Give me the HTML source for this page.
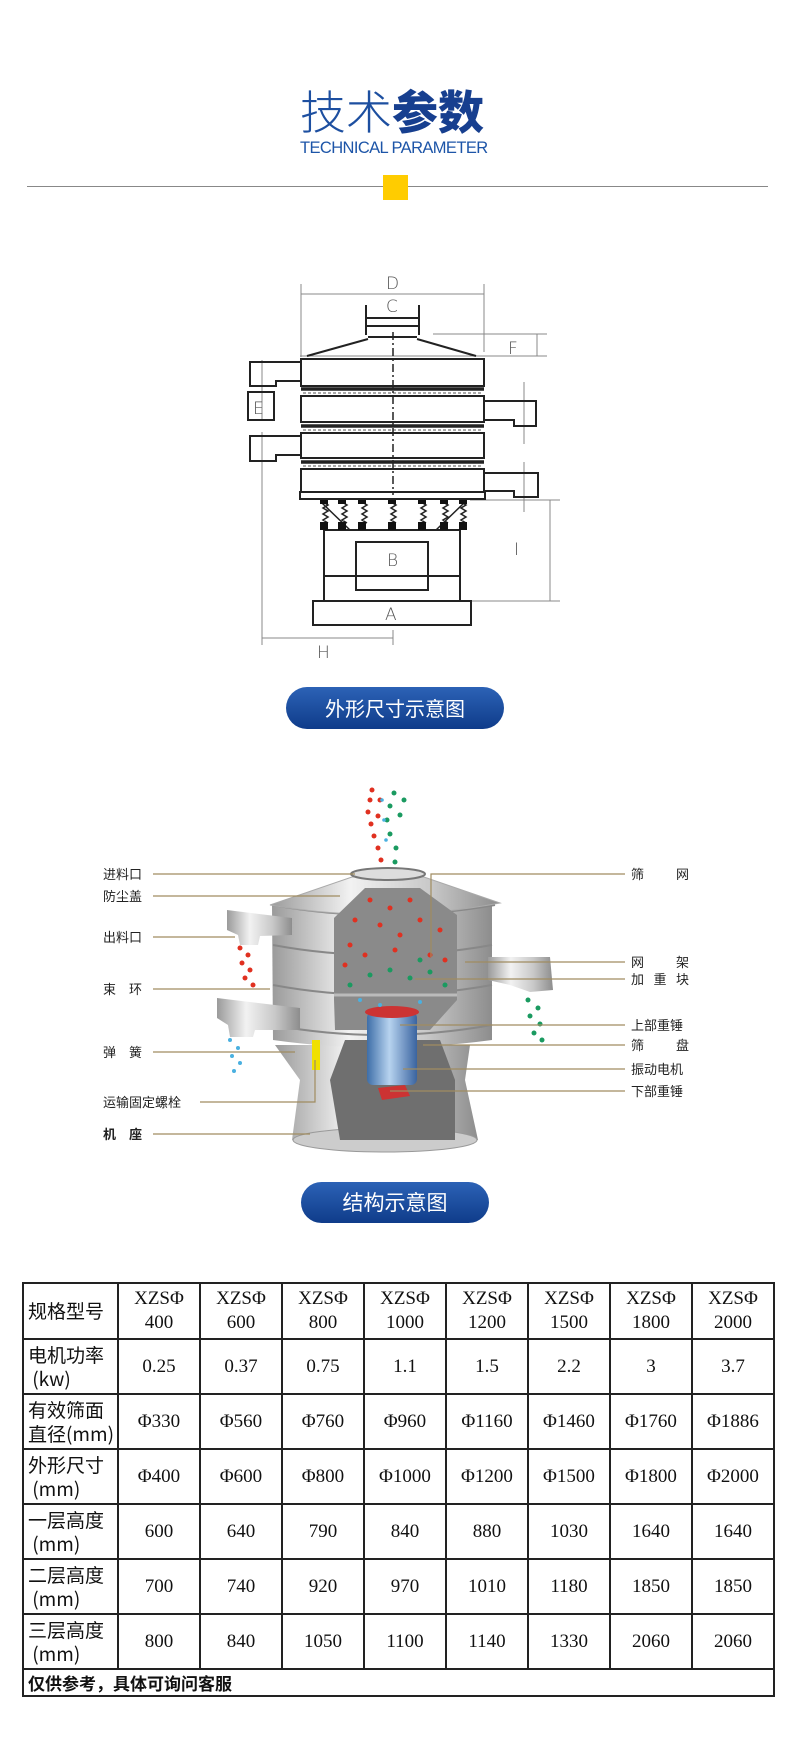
<!DOCTYPE html>
<html><head><meta charset="utf-8">
<style>
html,body{margin:0;padding:0;background:#fff;}
body{width:790px;height:1754px;position:relative;overflow:hidden;font-family:"Liberation Sans","Noto Sans CJK SC",sans-serif;}
.abs{position:absolute;}
.btn{position:absolute;border-radius:22px;background:linear-gradient(#2c62b6,#0f3c8a);color:#fff;text-align:center;font-family:"Noto Sans CJK SC",sans-serif;}
table{position:absolute;left:22px;top:1282px;border-collapse:collapse;font-family:"Liberation Serif","Noto Serif CJK SC",serif;}
td{border:2px solid #222;text-align:center;font-size:19px;color:#111;padding:0;line-height:24px;}
td.h{font-family:"Noto Sans CJK SC",sans-serif;font-size:19px;text-align:left;padding-left:4px;line-height:24px;}
</style></head><body>
<div class="abs" style="left:300px;top:80px;width:192px;font-size:46px;line-height:60px;color:#1d4fa0;font-family:'Noto Sans CJK SC',sans-serif;white-space:nowrap;"><span style="font-weight:300">技术</span><span style="font-weight:900;color:#173f8f">参数</span></div>
<div class="abs" style="left:300px;top:139px;width:192px;font-size:16.5px;color:#1d55a8;letter-spacing:-0.6px;white-space:nowrap;">TECHNICAL PARAMETER</div>
<div class="abs" style="left:27px;top:186px;width:741px;height:1px;background:#888;"></div>
<div class="abs" style="left:383px;top:175px;width:25px;height:25px;background:#ffcc00;"></div>

<svg class="abs" style="left:0;top:0" width="790" height="760" viewBox="0 0 790 760">
<g fill="none" stroke="#888" stroke-width="1">
<line x1="301" y1="294" x2="484" y2="294"/><line x1="301" y1="284" x2="301" y2="357"/><line x1="484" y1="284" x2="484" y2="352"/>
<line x1="433" y1="334" x2="547" y2="334"/><line x1="300" y1="356" x2="547" y2="356"/><line x1="537" y1="334" x2="537" y2="356"/>
<line x1="262" y1="360" x2="262" y2="420"/><line x1="262" y1="432" x2="262" y2="645"/>
<line x1="262" y1="638" x2="393" y2="638"/><line x1="393" y1="630" x2="393" y2="645"/>
<line x1="470" y1="500" x2="560" y2="500"/><line x1="470" y1="601" x2="560" y2="601"/><line x1="550" y1="500" x2="550" y2="601"/>
<line x1="524" y1="382" x2="524" y2="444"/><line x1="524" y1="462" x2="524" y2="512"/>
</g>
<g fill="none" stroke="#222" stroke-width="2">
<line x1="366" y1="305" x2="366" y2="335"/><line x1="419" y1="305" x2="419" y2="335"/>
<line x1="366" y1="318" x2="419" y2="318"/><line x1="366" y1="326" x2="419" y2="326"/><line x1="368" y1="337" x2="417" y2="337"/>
<path d="M368 339 L307 356 M417 339 L476 356"/>
<rect x="301" y="359" width="183" height="27"/>
<rect x="301" y="396" width="183" height="26"/>
<rect x="301" y="433" width="183" height="25"/>
<rect x="301" y="469" width="183" height="23"/>
<rect x="300" y="492" width="185" height="7"/>
<path d="M301 362 H250 V386 H276 V381 H301"/>
<path d="M484 401 H536 V426 H514 V420 H484"/>
<path d="M301 436 H250 V461 H276 V455 H301"/>
<path d="M484 473 H538 V497 H514 V491 H484"/>
<rect x="248" y="392" width="26" height="28"/>
<line x1="324" y1="530" x2="324" y2="600"/><line x1="460" y1="530" x2="460" y2="600"/>
<line x1="324" y1="530" x2="460" y2="530"/><line x1="324" y1="576" x2="460" y2="576"/>
<rect x="356" y="542" width="72" height="48"/>
<rect x="313" y="601" width="158" height="24"/>
</g>
<g stroke="#222" stroke-width="3.5"><line x1="301" y1="389" x2="484" y2="389"/><line x1="301" y1="426" x2="484" y2="426"/><line x1="301" y1="462" x2="484" y2="462"/></g>
<g stroke="#555" stroke-width="1" stroke-dasharray="3 2"><line x1="303" y1="393" x2="482" y2="393"/><line x1="303" y1="430" x2="482" y2="430"/><line x1="303" y1="466" x2="482" y2="466"/></g>
<line x1="393" y1="332" x2="393" y2="495" stroke="#222" stroke-width="1.5" stroke-dasharray="8 3 2 3"/>
<g stroke="#222" stroke-width="1.5" fill="none">
<path d="M323 502 l5 3 -5 3 5 3 -5 3 5 3 -5 3 5 3 M342 502 l5 3 -5 3 5 3 -5 3 5 3 -5 3 5 3 M362 502 l5 3 -5 3 5 3 -5 3 5 3 -5 3 5 3 M391 502 l5 3 -5 3 5 3 -5 3 5 3 -5 3 5 3 M421 502 l5 3 -5 3 5 3 -5 3 5 3 -5 3 5 3 M443 502 l5 3 -5 3 5 3 -5 3 5 3 -5 3 5 3 M461 502 l5 3 -5 3 5 3 -5 3 5 3 -5 3 5 3"/>
<path d="M322 503 L350 530 M464 503 L436 530"/>
</g>
<g fill="#111"><rect x="320" y="522" width="8" height="8"/><rect x="338" y="522" width="8" height="8"/><rect x="358" y="522" width="8" height="8"/><rect x="388" y="522" width="8" height="8"/><rect x="418" y="522" width="8" height="8"/><rect x="440" y="522" width="8" height="8"/><rect x="459" y="522" width="8" height="8"/>
<rect x="320" y="500" width="8" height="4"/><rect x="338" y="500" width="8" height="4"/><rect x="358" y="500" width="8" height="4"/><rect x="388" y="500" width="8" height="4"/><rect x="418" y="500" width="8" height="4"/><rect x="440" y="500" width="8" height="4"/><rect x="459" y="500" width="8" height="4"/></g>
<g font-family="DejaVu Sans, sans-serif" font-size="17" fill="#555" font-weight="200">
<text x="386" y="289">D</text><text x="386" y="312">C</text><text x="508" y="354">F</text><text x="253" y="414">E</text>
<text x="387" y="566">B</text><text x="385" y="620">A</text><text x="514" y="555">I</text><text x="317" y="658">H</text></g>
</svg>
<div class="btn" style="left:286px;top:687px;width:218px;height:42px;line-height:42px;font-size:20px;">外形尺寸示意图</div>

<svg class="abs" style="left:0;top:760px" width="790" height="420" viewBox="0 760 790 420">
<defs>
<linearGradient id="mt" x1="0" x2="1"><stop offset="0" stop-color="#9a9a9a"/><stop offset=".35" stop-color="#f2f2f2"/><stop offset=".7" stop-color="#c8c8c8"/><stop offset="1" stop-color="#8d8d8d"/></linearGradient>
<linearGradient id="bl" x1="0" x2="1"><stop offset="0" stop-color="#3e6ea8"/><stop offset=".45" stop-color="#b7d3ef"/><stop offset="1" stop-color="#3a64a0"/></linearGradient>
</defs>
<path d="M275 1045 L300 1080 L292 1140 Q380 1160 478 1140 L465 1080 L470 1045 Z" fill="url(#mt)"/>
<ellipse cx="385" cy="1140" rx="92" ry="12" fill="#ccc" stroke="#999"/>
<path d="M272 905 L273 1040 Q380 1055 492 1040 L492 905 Z" fill="url(#mt)"/>
<path d="M273 905 Q380 925 495 905" fill="none" stroke="#888" stroke-width="2"/>
<path d="M273 945 Q380 965 492 945 M273 985 Q380 1005 492 985 M273 1025 Q380 1045 492 1025" fill="none" stroke="#888" stroke-width="2"/>
<path d="M270 905 L352 877 L424 877 L500 903 Q385 925 270 905 Z" fill="url(#mt)" stroke="#aaa"/>
<ellipse cx="388" cy="874" rx="37" ry="6" fill="#ddd" stroke="#777" stroke-width="2"/>
<path d="M334 918 L365 888 L420 888 L457 915 L457 1000 L430 1030 L335 1030 L334 1000 Z" fill="#8a8a8a"/>
<path d="M334 995 L457 995" stroke="#bbb" stroke-width="3"/>
<path d="M345 1040 L440 1040 L455 1080 L455 1140 L340 1140 L330 1080 Z" fill="#6f6f6f"/>
<rect x="367" y="1012" width="50" height="73" rx="6" fill="url(#bl)"/>
<ellipse cx="392" cy="1012" rx="27" ry="6" fill="#c33"/>
<path d="M378 1088 L405 1085 L410 1096 L382 1100 Z" fill="#c33"/>
<path d="M227 910 L292 918 L292 935 L260 936 L258 945 L240 945 L238 935 L227 930 Z" fill="url(#mt)"/>
<path d="M217 998 L300 1008 L300 1030 L255 1030 L253 1037 L230 1037 L228 1025 L217 1018 Z" fill="url(#mt)"/>
<path d="M488 957 L550 957 L553 990 L530 992 L510 985 L488 980 Z" fill="url(#mt)"/>
<rect x="312" y="1040" width="8" height="30" fill="#f0e000"/>
<g fill="#e03020">
<circle cx="372" cy="790" r="2.5"/><circle cx="370" cy="800" r="2.5"/><circle cx="368" cy="812" r="2.5"/><circle cx="371" cy="824" r="2.5"/><circle cx="374" cy="836" r="2.5"/><circle cx="378" cy="848" r="2.5"/><circle cx="381" cy="860" r="2.5"/><circle cx="380" cy="800" r="2.5"/><circle cx="378" cy="816" r="2.5"/>
<circle cx="370" cy="900" r="2.5"/><circle cx="390" cy="908" r="2.5"/><circle cx="410" cy="900" r="2.5"/><circle cx="355" cy="920" r="2.5"/><circle cx="380" cy="925" r="2.5"/><circle cx="400" cy="935" r="2.5"/><circle cx="420" cy="920" r="2.5"/><circle cx="440" cy="930" r="2.5"/><circle cx="350" cy="945" r="2.5"/><circle cx="365" cy="955" r="2.5"/><circle cx="395" cy="950" r="2.5"/><circle cx="430" cy="955" r="2.5"/><circle cx="345" cy="965" r="2.5"/><circle cx="445" cy="960" r="2.5"/>
<circle cx="240" cy="948" r="2.5"/><circle cx="248" cy="955" r="2.5"/><circle cx="242" cy="963" r="2.5"/><circle cx="250" cy="970" r="2.5"/><circle cx="245" cy="978" r="2.5"/><circle cx="253" cy="985" r="2.5"/></g>
<g fill="#1a9a60">
<circle cx="394" cy="793" r="2.5"/><circle cx="390" cy="806" r="2.5"/><circle cx="387" cy="820" r="2.5"/><circle cx="390" cy="834" r="2.5"/><circle cx="396" cy="848" r="2.5"/><circle cx="404" cy="800" r="2.5"/><circle cx="400" cy="815" r="2.5"/><circle cx="395" cy="862" r="2.5"/>
<circle cx="370" cy="975" r="2.5"/><circle cx="390" cy="970" r="2.5"/><circle cx="410" cy="978" r="2.5"/><circle cx="430" cy="972" r="2.5"/><circle cx="350" cy="985" r="2.5"/><circle cx="445" cy="985" r="2.5"/><circle cx="420" cy="960" r="2.5"/>
<circle cx="528" cy="1000" r="2.5"/><circle cx="538" cy="1008" r="2.5"/><circle cx="530" cy="1016" r="2.5"/><circle cx="540" cy="1024" r="2.5"/><circle cx="534" cy="1033" r="2.5"/><circle cx="542" cy="1040" r="2.5"/></g>
<g fill="#4ab0e0">
<circle cx="382" cy="800" r="1.8"/><circle cx="384" cy="820" r="1.8"/><circle cx="386" cy="840" r="1.8"/><circle cx="360" cy="1000" r="2"/><circle cx="380" cy="1005" r="2"/><circle cx="420" cy="1002" r="2"/>
<circle cx="230" cy="1040" r="2"/><circle cx="238" cy="1048" r="2"/><circle cx="232" cy="1056" r="2"/><circle cx="240" cy="1063" r="2"/><circle cx="234" cy="1071" r="2"/></g>
<g stroke="#a08c60" stroke-width="1.2" fill="none">
<line x1="153" y1="874" x2="355" y2="874"/><line x1="153" y1="896" x2="340" y2="896"/><line x1="153" y1="937" x2="235" y2="937"/>
<line x1="153" y1="989" x2="270" y2="989"/><line x1="153" y1="1052" x2="295" y2="1052"/>
<path d="M200 1102 H315 V1060"/><line x1="153" y1="1134" x2="310" y2="1134"/>
<path d="M625 874 H431 V957"/><line x1="625" y1="962" x2="465" y2="962"/><line x1="625" y1="979" x2="415" y2="979"/>
<line x1="625" y1="1025" x2="400" y2="1025"/><line x1="625" y1="1045" x2="423" y2="1045"/><line x1="625" y1="1069" x2="403" y2="1069"/><line x1="625" y1="1091" x2="390" y2="1091"/>
</g>
<g font-family="Noto Sans CJK SC, sans-serif" font-size="13" fill="#222">
<text x="103" y="879">进料口</text><text x="103" y="901">防尘盖</text><text x="103" y="942">出料口</text>
<text x="103" y="994">束　环</text><text x="103" y="1057">弹　簧</text><text x="103" y="1107">运输固定螺栓</text><text x="103" y="1139" font-weight="bold">机　座</text>
<text x="631" y="879" textLength="58">筛　网</text><text x="631" y="967" textLength="58">网　架</text><text x="631" y="984" textLength="58">加 重 块</text>
<text x="631" y="1030">上部重锤</text><text x="631" y="1050" textLength="58">筛　盘</text><text x="631" y="1074">振动电机</text><text x="631" y="1096">下部重锤</text>
</g>
</svg>
<div class="btn" style="left:301px;top:1182px;width:188px;height:41px;line-height:41px;font-size:21px;border-radius:21px;">结构示意图</div>

<table>
<tr style="height:56px"><td class="h" style="width:89px">规格型号</td><td style="width:80px">XZSΦ<br>400</td><td style="width:80px">XZSΦ<br>600</td><td style="width:80px">XZSΦ<br>800</td><td style="width:80px">XZSΦ<br>1000</td><td style="width:80px">XZSΦ<br>1200</td><td style="width:80px">XZSΦ<br>1500</td><td style="width:80px">XZSΦ<br>1800</td><td style="width:80px">XZSΦ<br>2000</td></tr>
<tr style="height:55px"><td class="h">电机功率<br>&nbsp;(kw)</td><td>0.25</td><td>0.37</td><td>0.75</td><td>1.1</td><td>1.5</td><td>2.2</td><td>3</td><td>3.7</td></tr>
<tr style="height:55px"><td class="h">有效筛面<br>直径(mm)</td><td>Φ330</td><td>Φ560</td><td>Φ760</td><td>Φ960</td><td>Φ1160</td><td>Φ1460</td><td>Φ1760</td><td>Φ1886</td></tr>
<tr style="height:55px"><td class="h">外形尺寸<br>&nbsp;(mm)</td><td>Φ400</td><td>Φ600</td><td>Φ800</td><td>Φ1000</td><td>Φ1200</td><td>Φ1500</td><td>Φ1800</td><td>Φ2000</td></tr>
<tr style="height:55px"><td class="h">一层高度<br>&nbsp;(mm)</td><td>600</td><td>640</td><td>790</td><td>840</td><td>880</td><td>1030</td><td>1640</td><td>1640</td></tr>
<tr style="height:55px"><td class="h">二层高度<br>&nbsp;(mm)</td><td>700</td><td>740</td><td>920</td><td>970</td><td>1010</td><td>1180</td><td>1850</td><td>1850</td></tr>
<tr style="height:55px"><td class="h">三层高度<br>&nbsp;(mm)</td><td>800</td><td>840</td><td>1050</td><td>1100</td><td>1140</td><td>1330</td><td>2060</td><td>2060</td></tr>
<tr style="height:27px"><td colspan="9" class="h" style="font-weight:bold;font-size:17px;line-height:22px">仅供参考，具体可询问客服</td></tr>
</table>
</body></html>
